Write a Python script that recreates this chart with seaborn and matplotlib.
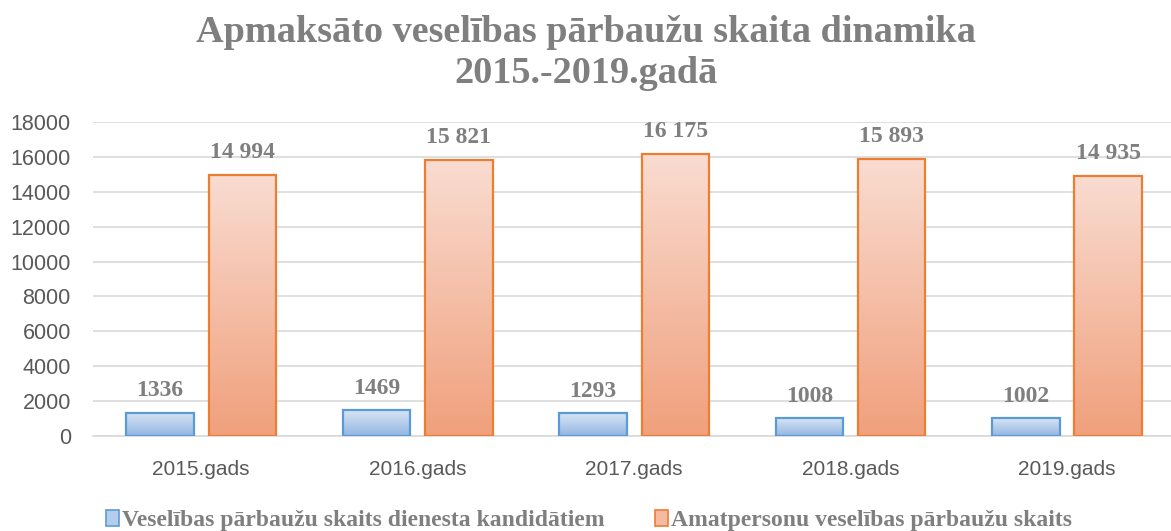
import numpy as np
import pandas as pd
import matplotlib
matplotlib.use("Agg")
import matplotlib.pyplot as plt
import matplotlib.patches as mpatches
from matplotlib.colors import LinearSegmentedColormap
import seaborn as sns

# dati
years = ["2015.gads", "2016.gads", "2017.gads", "2018.gads", "2019.gads"]
kandidati = [1336, 1469, 1293, 1008, 1002]
amatpersonas = [14994, 15821, 16175, 15893, 14935]
series_names = ["Veselības pārbaužu skaits dienesta kandidātiem",
                "Amatpersonu veselības pārbaužu skaits"]

df = pd.DataFrame({
    "gads": years * 2,
    "skaits": kandidati + amatpersonas,
    "sērija": [series_names[0]] * len(years) + [series_names[1]] * len(years),
})

sns.set_theme(style="white")
plt.rcParams["font.family"] = ["Liberation Sans", "DejaVu Sans"]

fig = plt.figure(figsize=(11.71, 5.31), dpi=100)
ax = fig.add_axes([0.0794, 0.179, 0.9206, 0.591])

sns.barplot(data=df, x="gads", y="skaits", hue="sērija", ax=ax,
            width=0.76, gap=0.18, legend=False,
            palette=["#9dbde5", "#f2ab8a"])

ax.yaxis.grid(True, color="#d9d9d9", linewidth=1.2)
ax.set_axisbelow(True)
for s in ["left", "right", "top"]:
    ax.spines[s].set_visible(False)
ax.spines["bottom"].set_color("#d9d9d9")
ax.spines["bottom"].set_linewidth(1.2)
ax.tick_params(axis="both", length=0, labelcolor="#595959")
ax.tick_params(axis="y", labelsize=15.5, pad=16)
ax.tick_params(axis="x", labelsize=15, pad=17)
ax.set_xlabel("")
ax.set_ylabel("")

# gradienti
blue_cmap = LinearSegmentedColormap.from_list("b", ["#93b6e2", "#d8e4f4"])
orange_cmap = LinearSegmentedColormap.from_list("o", ["#f0a07c", "#f9dcd1"])
edges = ["#5b9bd5", "#ed7d31"]
grad = np.linspace(0, 1, 256).reshape(-1, 1)

bars = list(ax.patches)
n = len(years)
for i, p in enumerate(bars):
    k = 0 if i < n else 1
    x0, w, h = p.get_x(), p.get_width(), p.get_height()
    cmap = blue_cmap if k == 0 else orange_cmap
    im = ax.imshow(grad, extent=[x0, x0 + w, 0, h], origin="lower",
                   aspect="auto", cmap=cmap, zorder=2)
    im.set_clip_path(p)
    p.set_facecolor("none")
    p.set_edgecolor(edges[k])
    p.set_linewidth(1.6)
    p.set_zorder(3)
    val = kandidati[i] if k == 0 else amatpersonas[i - n]
    txt = f"{val}" if k == 0 else f"{val:,}".replace(",", " ")
    ax.annotate(txt, (x0 + w / 2, h), xytext=(0, 12), textcoords="offset points",
                ha="center", va="baseline", fontsize=17, fontweight="bold",
                color="#7f7f7f", family="Liberation Serif")

ax.set_xlim(-0.5, 4.48)
ax.set_ylim(0, 18000)
ax.set_yticks(range(0, 18001, 2000))

fig.text(0.5, 0.9, "Apmaksāto veselības pārbaužu skaita dinamika\n2015.-2019.gadā",
         ha="center", va="center", fontsize=27.5, fontweight="bold",
         color="#7f7f7f", family="Liberation Serif", linespacing=1.2)

handles = [mpatches.Patch(facecolor="#b5cdec", edgecolor=edges[0], linewidth=1.2),
           mpatches.Patch(facecolor="#f4bba0", edgecolor=edges[1], linewidth=1.2)]
fig.legend(handles, series_names, loc="center", bbox_to_anchor=(0.503, 0.02),
           ncol=2, frameon=False, handlelength=0.55, handleheight=0.65,
           handletextpad=0.15, columnspacing=2.1,
           prop={"family": "Liberation Serif", "weight": "bold", "size": 17},
           labelcolor="#7f7f7f")

fig.savefig("out.png", dpi=100)
